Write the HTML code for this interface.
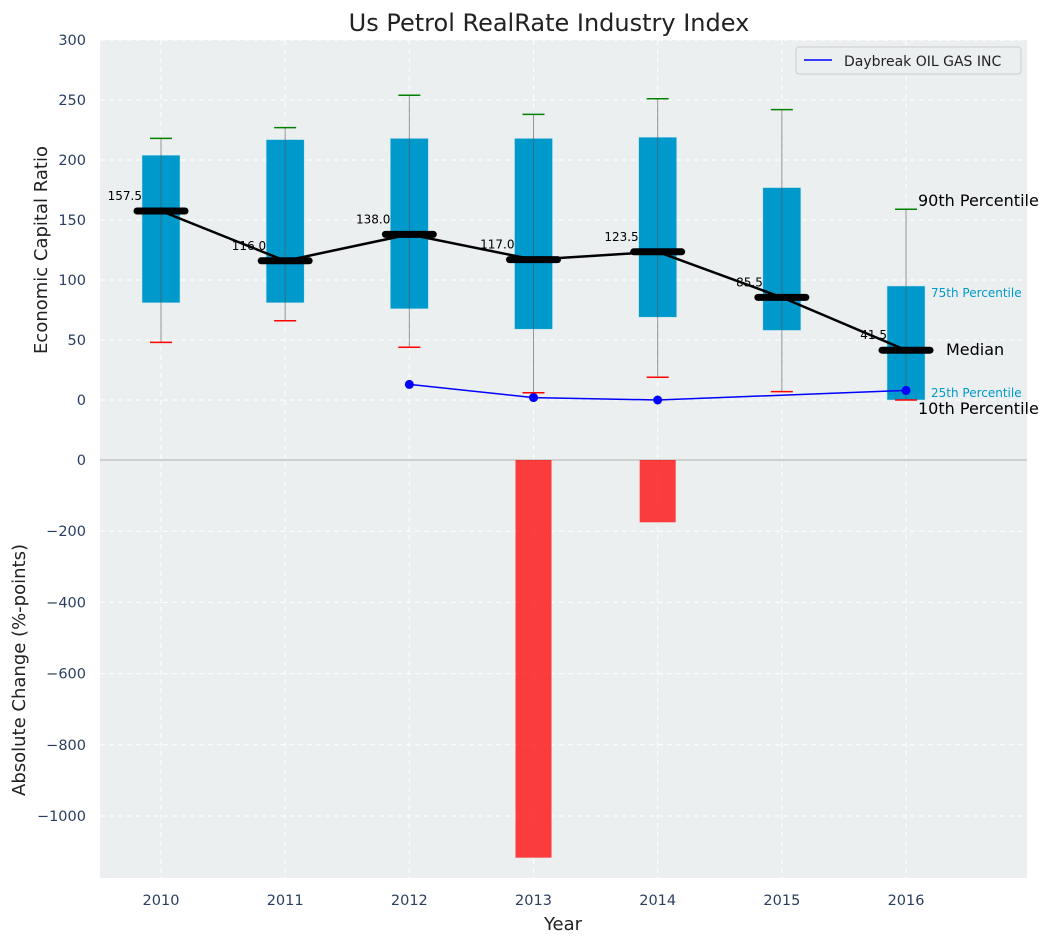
<!DOCTYPE html>
<html><head><meta charset="utf-8"><style>
body{margin:0;background:#fff;font-family:"Liberation Sans","DejaVu Sans",sans-serif}
svg text{font-family:"DejaVu Sans","Liberation Sans",sans-serif}
</style></head><body>
<svg id="c" width="1053" height="942" xmlns="http://www.w3.org/2000/svg"></svg>
<script>
const years=[2010,2011,2012,2013,2014,2015,2016];
const p10=[48,66,44,6,19,7,0];
const p25=[81,81,76,59,69,58,0];
const median=[157.5,116,138,117,123.5,85.5,41.5];
const p75=[204,217,218,218,219,177,95];
const p90=[218,227,254,238,251,242,159];
const company=[null,null,13,2,0,null,8];
const change=[null,null,null,-1117,-175,null,null];
const topTicks=[0,50,100,150,200,250,300];
const botTicks=[0,-200,-400,-600,-800,-1000];

const NS="http://www.w3.org/2000/svg";
const svg=document.getElementById('c');
function el(t,a,p){const e=document.createElementNS(NS,t);for(const k in a)e.setAttribute(k,a[k]);(p||svg).appendChild(e);return e;}
const L=100,R=1027;
const x=i=>161+i*124.17;
const yT=v=>400-v*1.2;
const yB=v=>460-v*0.356;
const tickCol="#2a3f5f";

let bg=el('rect',{x:L,y:40,width:R-L,height:420,fill:"#ebeff0"});

let bg2=el('rect',{x:L,y:460,width:R-L,height:418,fill:"#ebeff0"});


topTicks.forEach(v=>{el('line',{x1:L,x2:R,y1:yT(v),y2:yT(v),stroke:"#fff","stroke-dasharray":"5,4","stroke-width":1});
 const t=el('text',{x:86,y:yT(v)+5,"text-anchor":"end","font-size":14.5,fill:tickCol});t.textContent=v;
 });
botTicks.forEach(v=>{if(v!==0)el('line',{x1:L,x2:R,y1:yB(v),y2:yB(v),stroke:"#fff","stroke-dasharray":"5,4","stroke-width":1});
 const t=el('text',{x:86,y:yB(v)+5,"text-anchor":"end","font-size":14.5,fill:tickCol});t.textContent=String(v).replace('-','\u2212');
 });
years.forEach((yr,i)=>{el('line',{x1:x(i),x2:x(i),y1:40,y2:878,stroke:"#fff","stroke-dasharray":"5,4","stroke-width":1});
 const t=el('text',{x:x(i),y:905,"text-anchor":"middle","font-size":14.5,fill:tickCol});t.textContent=yr;
 });
el('line',{x1:L,x2:R,y1:460,y2:460,stroke:"#b0b0b0","stroke-width":1});

years.forEach((yr,i)=>{
 const b=el('rect',{x:x(i)-19,y:yT(p75[i]),width:38,height:yT(p25[i])-yT(p75[i]),fill:"#0099cc",stroke:"#bfe3ef","stroke-width":0.5});
 
 const w=el('line',{x1:x(i),x2:x(i),y1:yT(p10[i]),y2:yT(p90[i]),stroke:"#555","stroke-opacity":0.6,"stroke-width":1});
 
 el('line',{x1:x(i)-11,x2:x(i)+11,y1:yT(p90[i]),y2:yT(p90[i]),stroke:"green","stroke-width":1.5});
 el('line',{x1:x(i)-11,x2:x(i)+11,y1:yT(p10[i]),y2:yT(p10[i]),stroke:"red","stroke-width":1.5});
});
let d=years.map((yr,i)=>(i?'L':'M')+x(i)+','+yT(median[i])).join('');
let ml=el('path',{d:d,fill:"none",stroke:"#000","stroke-width":2.5});

years.forEach((yr,i)=>{
 const m=el('line',{x1:x(i)-24,x2:x(i)+24,y1:yT(median[i]),y2:yT(median[i]),stroke:"#000","stroke-width":7,"stroke-linecap":"round"});
 
 const t=el('text',{x:x(i)-19,y:yT(median[i])-11,"text-anchor":"end","font-size":12,fill:"#000"});t.textContent=median[i].toFixed(1);
 
});
let pts=[];company.forEach((v,i)=>{if(v!==null)pts.push([x(i),yT(v)]);});
let cl=el('path',{d:pts.map((p,i)=>(i?'L':'M')+p[0]+','+p[1]).join(''),fill:"none",stroke:"blue","stroke-width":1.5});

pts.forEach(p=>{const c=el('circle',{cx:p[0],cy:p[1],r:4.5,fill:"blue"});
 });
change.forEach((v,i)=>{if(v===null)return;
 const b=el('rect',{x:x(i)-18,y:yB(0),width:36,height:yB(v)-yB(0),fill:"#ff0000","fill-opacity":0.75});
 });
const i6=6;
[["90th Percentile",918,yT(p90[i6])-3,16,"#000"],["75th Percentile",931,yT(p75[i6])+11,12,"#0099cc"],["Median",946,yT(median[i6])+5,16,"#000"],["25th Percentile",931,yT(p25[i6])-3,12,"#0099cc"],["10th Percentile",918,yT(p10[i6])+14,16,"#000"]].forEach(a=>{
 const t=el('text',{x:a[1],y:a[2],"font-size":a[3],fill:a[4]});t.textContent=a[0];
 });
const lg=el('g',{});
el('rect',{x:796,y:47,width:225,height:27,fill:"#ebeff0",stroke:"#ccc",rx:3},lg);
el('line',{x1:804,x2:832,y1:60,y2:60,stroke:"blue","stroke-width":1.5},lg);
let lt=el('text',{x:844,y:66,"font-size":14,fill:"#222"},lg);lt.textContent="Daybreak OIL GAS INC";
let tt=el('text',{x:549,y:31,"text-anchor":"middle","font-size":24,fill:"#222"});tt.textContent="Us Petrol RealRate Industry Index";

let xt=el('text',{x:563,y:930,"text-anchor":"middle","font-size":18,fill:"#222"});xt.textContent="Year";

let y1=el('text',{x:0,y:0,"text-anchor":"middle","font-size":18,fill:"#222",transform:"translate(47,250) rotate(-90)"});y1.textContent="Economic Capital Ratio";

let y2=el('text',{x:0,y:0,"text-anchor":"middle","font-size":18,fill:"#222",transform:"translate(25,670) rotate(-90)"});y2.textContent="Absolute Change (%-points)";

</script>
</body></html>
